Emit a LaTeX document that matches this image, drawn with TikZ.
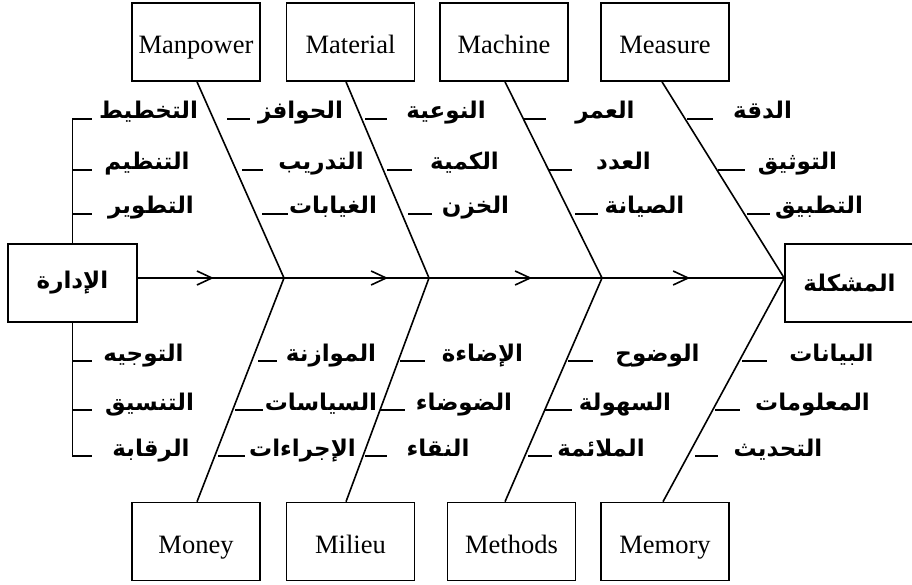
\documentclass[tikz,border=0pt]{standalone}
\usepackage{fontspec}
\setmainfont{Liberation Serif}
\newfontfamily\arabicfont[Script=Arabic]{DejaVu Sans}
\TeXXeTstate=1
\usetikzlibrary{arrows.meta,decorations.markings}
\newcommand{\artext}[1]{{\arabicfont\bfseries\beginR #1\endR}}
% \fishlabel{name}{center x}{baseline y}{dash x1}{dash x2}{text}
\newcommand{\fishlabel}[6]{%
  \node[lbl] (#1) at (#2,#3) {\artext{#6}};
  \draw[tick] (#4,#3) -- (#5,#3);
}
\begin{document}
\begin{tikzpicture}[x=1bp,y=-1bp,line width=1.6bp,
  catbox/.style={draw,minimum width=128bp,minimum height=78bp,inner sep=0pt,
    font=\fontsize{26.5bp}{30bp}\selectfont,text height=24bp,text depth=0bp},
  endbox/.style={draw,minimum width=129bp,minimum height=78bp,inner sep=0pt,
    font=\fontsize{23bp}{27bp}\selectfont},
  lbl/.style={anchor=base,inner sep=0pt,font=\fontsize{23bp}{27bp}\selectfont},
  tick/.style={line width=1.5bp},
  bone/.style={line width=1.6bp},
  spinearrow/.style={postaction={decorate},decoration={markings,
    mark=at position #1 with {\arrow{Straight Barb[length=15bp,width=14bp]}}}}
]
\useasboundingbox (0,0) rectangle (912,585);
\clip (0,0) rectangle (912,585);

% boxes
\node[catbox] (mp)  at (196,42)    {Manpower};
\node[catbox] (mat) at (350.5,42)  {Material};
\node[catbox] (mac) at (504,42)    {Machine};
\node[catbox] (mea) at (665,42)    {Measure};
\node[catbox] (mon) at (196,541.5) {Money};
\node[catbox] (mil) at (350.5,541.5) {Milieu};
\node[catbox] (met) at (511.5,541.5) {Methods};
\node[catbox] (mem) at (665,541.5) {Memory};
\node[endbox] (adm)  at (72.5,283) {\artext{الإدارة}};
\node[endbox] (prob) at (849.5,283) {\artext{المشكلة}};

% spine junctions
\coordinate (j1) at (284,278);
\coordinate (j2) at (429,278);
\coordinate (j3) at (602,278);
\coordinate (j4) at (prob.west |- j1);

\draw[spinearrow=76bp]  (adm.east |- j1) -- (j1);
\draw[spinearrow=104bp] (j1) -- (j2);
\draw[spinearrow=103bp] (j2) -- (j3);
\draw[spinearrow=88bp]  (j3) -- (j4);

% bones
\draw[bone] ([xshift=1bp]mp.south) -- (j1);
\draw[bone] ([xshift=-4.5bp]mat.south) -- (j2);
\draw[bone] ([xshift=1bp]mac.south) -- (j3);
\draw[bone] ([xshift=-3bp]mea.south) -- (j4);
\draw[bone] ([xshift=1bp]mon.north) -- (j1);
\draw[bone] ([xshift=-4.5bp]mil.north) -- (j2);
\draw[bone] ([xshift=-6.5bp]met.north) -- (j3);
\draw[bone] ([xshift=-2bp]mem.north) -- (j4);

% management branches
\coordinate (tu) at (92,119);
\coordinate (td) at (92,456);
\draw (adm.north) -- (adm.north |- tu) -- (tu);
\draw (adm.south) -- (adm.south |- td) -- (td);

% top labels
\fishlabel{a1}{148.5}{119}{72}{92}{التخطيط}
\fishlabel{a2}{147}{170}{72}{92}{التنظيم}
\fishlabel{a3}{151}{214}{72}{92}{التطوير}
\fishlabel{b1}{300.5}{119}{227}{250}{الحوافز}
\fishlabel{b2}{321}{170}{242}{263}{التدريب}
\fishlabel{b3}{333}{214}{262}{288}{الغيابات}
\fishlabel{c1}{446}{119}{365}{387}{النوعية}
\fishlabel{c2}{464.5}{170}{387}{412}{الكمية}
\fishlabel{c3}{475.5}{214}{408}{432}{الخزن}
\fishlabel{d1}{605}{119}{523}{546}{العمر}
\fishlabel{d2}{623.5}{170}{548}{572}{العدد}
\fishlabel{d3}{644.5}{214}{575}{598}{الصيانة}
\fishlabel{e1}{762.5}{119}{687}{713}{الدقة}
\fishlabel{e2}{797.5}{170}{718}{745}{التوثيق}
\fishlabel{e3}{819}{214}{747}{770}{التطبيق}

% bottom labels
\fishlabel{f1}{143.5}{361}{72}{92}{التوجيه}
\fishlabel{f2}{149.5}{410}{72}{92}{التنسيق}
\fishlabel{f3}{151}{456}{72}{92}{الرقابة}
\fishlabel{g1}{331}{361}{258}{277}{الموازنة}
\fishlabel{g2}{321}{410}{235}{263}{السياسات}
\fishlabel{g3}{302.5}{456}{218}{245}{الإجراءات}
\fishlabel{h1}{482.5}{361}{400}{425}{الإضاءة}
\fishlabel{h2}{464}{410}{380}{405}{الضوضاء}
\fishlabel{h3}{438}{456}{365}{387}{النقاء}
\fishlabel{k1}{657.5}{361}{568}{593}{الوضوح}
\fishlabel{k2}{625}{410}{545}{572}{السهولة}
\fishlabel{k3}{601}{456}{528}{552}{الملائمة}
\fishlabel{m1}{831.5}{361}{742}{767}{البيانات}
\fishlabel{m2}{812.5}{410}{715}{740}{المعلومات}
\fishlabel{m3}{778}{456}{695}{718}{التحديث}
\end{tikzpicture}
\end{document}
